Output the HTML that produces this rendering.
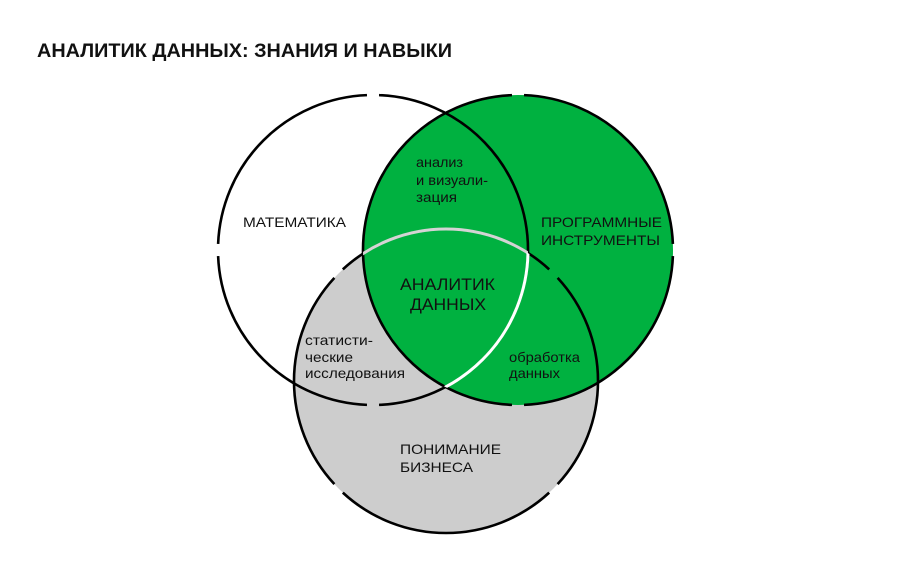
<!DOCTYPE html>
<html><head><meta charset="utf-8"><style>
html,body{margin:0;padding:0;background:#fff;}
svg{display:block;}
text{font-family:"Liberation Sans",sans-serif;fill:#111;}
</style></head><body>
<svg width="900" height="569" viewBox="0 0 900 569" xmlns="http://www.w3.org/2000/svg">
<defs>
<clipPath id="cProg"><circle cx="518" cy="250" r="155"/></clipPath>
<clipPath id="cMath"><circle cx="373" cy="250" r="155"/></clipPath>
<clipPath id="cBus"><circle cx="446" cy="381" r="152"/></clipPath>
</defs>
<rect width="900" height="569" fill="#fff"/>
<text x="37" y="57" font-size="19.5" font-weight="bold" textLength="415" lengthAdjust="spacingAndGlyphs">АНАЛИТИК ДАННЫХ: ЗНАНИЯ И НАВЫКИ</text>

<circle cx="446" cy="381" r="152" fill="#cdcdcd"/>
<circle cx="518" cy="250" r="155" fill="#00b140"/>

<g fill="none" stroke="#000" stroke-width="2.6">
<circle cx="373" cy="250" r="155" pathLength="360" stroke-dasharray="87.75 4.5 85.5 4.5 85.5 4.5 87.75"/>
<circle cx="518" cy="250" r="155" pathLength="360" stroke-dasharray="0 2.25 85.5 4.5 175.5 4.5 85.5 2.25"/>
<circle cx="446" cy="381" r="152" pathLength="360" stroke-dasharray="42.75 4.5 85.5 4.5 85.5 4.5 85.5 4.5 42.75"/>
</g>
<g clip-path="url(#cProg)">
<g clip-path="url(#cMath)">
<circle cx="446" cy="381" r="152" fill="none" stroke="#d4d4d4" stroke-width="3"/>
</g>
</g>
<g clip-path="url(#cProg)">
<g clip-path="url(#cBus)">
<circle cx="373" cy="250" r="155" fill="none" stroke="#fff" stroke-width="3"/>
</g>
</g>

<text x="243" y="227" font-size="14" textLength="103" lengthAdjust="spacingAndGlyphs">МАТЕМАТИКА</text>
<text x="541" y="227" font-size="14" textLength="121" lengthAdjust="spacingAndGlyphs">ПРОГРАММНЫЕ</text>
<text x="541" y="245" font-size="14" textLength="119" lengthAdjust="spacingAndGlyphs">ИНСТРУМЕНТЫ</text>
<text x="416" y="167" font-size="14" textLength="47" lengthAdjust="spacingAndGlyphs">анализ</text>
<text x="416" y="185" font-size="14" textLength="72" lengthAdjust="spacingAndGlyphs">и визуали-</text>
<text x="416" y="202" font-size="14" textLength="41" lengthAdjust="spacingAndGlyphs">зация</text>
<text x="400" y="290" font-size="16.5" textLength="95" lengthAdjust="spacingAndGlyphs">АНАЛИТИК</text>
<text x="410" y="310" font-size="16.5" textLength="76" lengthAdjust="spacingAndGlyphs">ДАННЫХ</text>
<text x="305" y="345" font-size="14" textLength="68" lengthAdjust="spacingAndGlyphs">статисти-</text>
<text x="305" y="362" font-size="14" textLength="48" lengthAdjust="spacingAndGlyphs">ческие</text>
<text x="305" y="378" font-size="14" textLength="100" lengthAdjust="spacingAndGlyphs">исследования</text>
<text x="509" y="362" font-size="14" textLength="71" lengthAdjust="spacingAndGlyphs">обработка</text>
<text x="509" y="378" font-size="14" textLength="51" lengthAdjust="spacingAndGlyphs">данных</text>
<text x="400" y="454" font-size="14" textLength="101" lengthAdjust="spacingAndGlyphs">ПОНИМАНИЕ</text>
<text x="400" y="472" font-size="14" textLength="73" lengthAdjust="spacingAndGlyphs">БИЗНЕСА</text>
</svg>
</body></html>
